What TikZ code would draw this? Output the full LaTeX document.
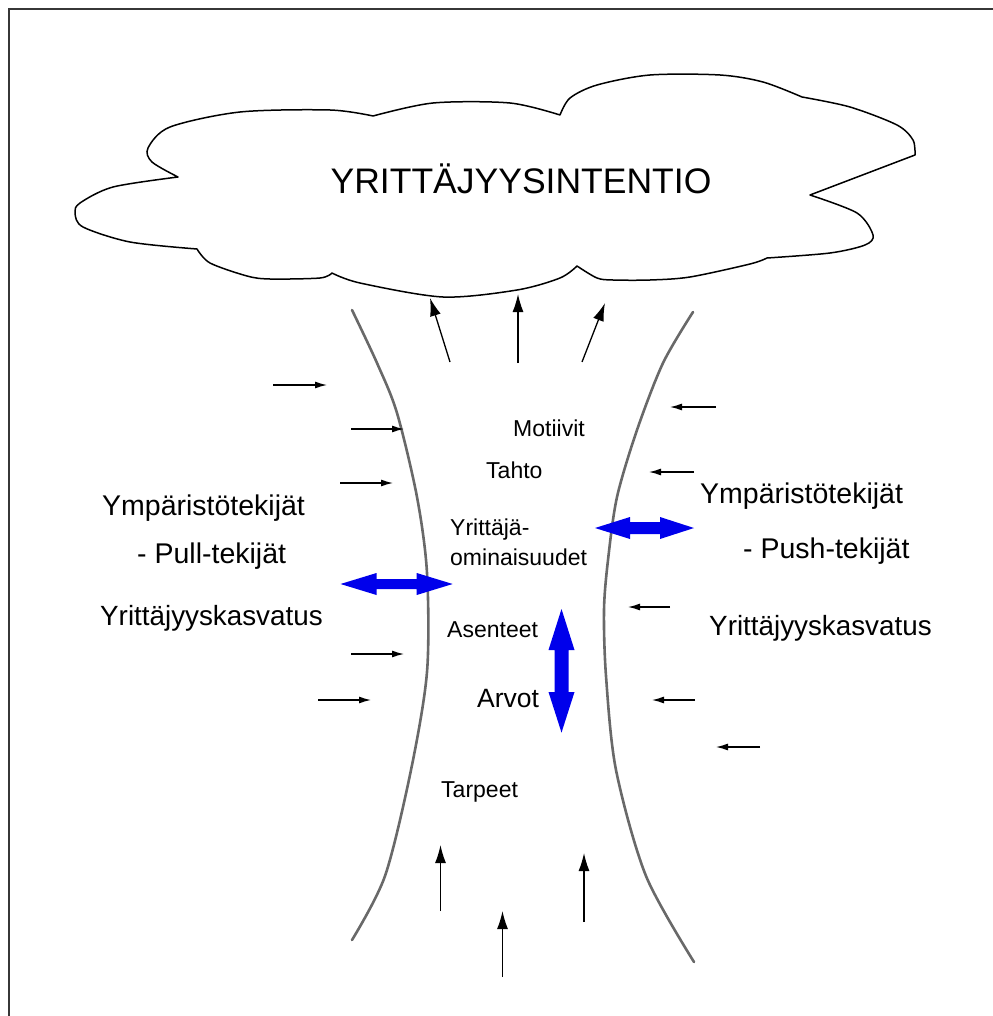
\documentclass[tikz,border=0pt]{standalone}
\usepackage{fontspec}
\setmainfont{Liberation Sans}
\usetikzlibrary{arrows.meta}
\definecolor{arrowblue}{RGB}{0,0,235}
\definecolor{funnelgray}{RGB}{105,105,105}
\definecolor{framegray}{RGB}{55,55,55}
\begin{document}
\begin{tikzpicture}[x=1pt,y=-1pt,
  lbl/.style={inner sep=0pt, anchor=base west, font=\fontsize{23}{27}\selectfont},
  side/.style={inner sep=0pt, anchor=base west, font=\fontsize{28.5}{34}\selectfont},
  thinarrow/.style={line width=1.3pt, -{Latex[length=12pt,width=7pt]}},
  uparrow/.style={line width=1.3pt, -{Latex[length=18pt,width=11pt]}},
  funnel/.style={line width=2.6pt, funnelgray, line cap=round},
  bluearrow/.style={fill=arrowblue, draw=none}]
\useasboundingbox (0,0) rectangle (992,1016);
% frame
\draw[line width=2pt, framegray] (8.5,1017) -- (8.5,9) -- (993,9);
% cloud
\draw[line width=1.5pt, line join=round]
  plot[smooth] coordinates {(178,177) (152,162) (148,148) (170,127) (240,112) (330,110) (373,116)}
  -- plot[smooth] coordinates {(373,116) (433,103) (510,103) (560,115)}
  -- plot[smooth] coordinates {(560,115) (570,98) (597,85) (650,75) (720,75) (763,82) (802,97)}
  -- plot[smooth] coordinates {(802,97) (850,107) (897,125) (913,140) (915,155)}
  -- (810,195)
  -- plot[smooth] coordinates {(810,195) (857,213) (873,235) (865,245) (830,253) (767,258)}
  -- plot[smooth] coordinates {(767,258) (750,264) (690,277) (650,280) (613,280) (597,278) (577,266)}
  -- plot[smooth] coordinates {(577,266) (560,278) (517,290) (443,297) (360,283) (332,273)}
  -- plot[smooth] coordinates {(332,273) (320,278) (270,279) (247,276) (210,263) (197,249)}
  -- plot[smooth] coordinates {(197,249) (130,242) (83,227) (75,213) (80,203) (113,187) (178,177)}
  -- cycle;
\node[font=\fontsize{35.5}{40}\selectfont, inner sep=0pt, anchor=base] (title) at (521,194) {YRITTÄJYYSINTENTIO};
% funnel sides
\draw[funnel] plot[smooth] coordinates {(352,310) (377,363) (397,413) (417,497) (427,573) (427,672) (411,770) (385,876) (352,940)};
\draw[funnel] plot[smooth] coordinates {(693,312) (663,363) (637,430) (617,497) (608,560) (604,610) (606,676) (616,770) (646,876) (694,962)};
% arrows to cloud
\draw[uparrow] (450,362) -- (430,298);
\draw[uparrow] (518,363) -- (518,294);
\draw[uparrow] (582,362) -- (605,303);
% left arrows
\draw[thinarrow] (273,385) -- (327,385);
\draw[thinarrow] (351,429) -- (404,429);
\draw[thinarrow] (340,483) -- (393,483);
\draw[thinarrow] (351,654) -- (404,654);
\draw[thinarrow] (318,700) -- (371,700);
% right arrows
\draw[thinarrow] (716,407) -- (670,407);
\draw[thinarrow] (694,472) -- (649,472);
\draw[thinarrow] (670,607) -- (628,607);
\draw[thinarrow] (695,700) -- (652,700);
\draw[thinarrow] (760,747) -- (716,747);
% bottom arrows
\draw[uparrow] (440.5,911) -- (440.5,845);
\draw[uparrow] (502.5,977) -- (502.5,911);
\draw[uparrow] (584,922) -- (584,853);
% blue double arrows
\fill[bluearrow] (340.5,584) -- (376.5,573) -- (376.5,579) -- (416.7,579) -- (416.7,573) -- (452.7,584)
  -- (416.7,595) -- (416.7,589) -- (376.5,589) -- (376.5,595) -- cycle;
\fill[bluearrow] (595,528) -- (630,517) -- (630,522) -- (660,522) -- (660,517) -- (694,528)
  -- (660,539) -- (660,534) -- (630,534) -- (630,539) -- cycle;
\fill[bluearrow] (561.5,609) -- (574.5,650) -- (568.5,650) -- (568.5,692) -- (574.5,692) -- (561.5,732.6)
  -- (548.5,692) -- (554.5,692) -- (554.5,650) -- (548.5,650) -- cycle;
% inner labels
\node[lbl] (motiivit) at (513,436) {Motiivit};
\node[lbl] (tahto) at (486,478) {Tahto};
\node[lbl] (yrittaja) at (450,535) {Yrittäjä-};
\node[lbl] (ominais) at (450,565) {ominaisuudet};
\node[lbl] (asenteet) at (447,637) {Asenteet};
\node[lbl, font=\fontsize{26.5}{30}\selectfont] (arvot) at (477,707) {Arvot};
\node[lbl] (tarpeet) at (441,797) {Tarpeet};
% side labels
\node[side] (ympL) at (102,515) {Ympäristötekijät};
\node[side] (pull) at (137,563) {- Pull-tekijät};
\node[side, font=\fontsize{27.8}{33}\selectfont] (kasvL) at (100,625) {Yrittäjyyskasvatus};
\node[side] (ympR) at (700,503) {Ympäristötekijät};
\node[side] (push) at (743,558) {- Push-tekijät};
\node[side, font=\fontsize{27.8}{33}\selectfont] (kasvR) at (709,635) {Yrittäjyyskasvatus};
\end{tikzpicture}
\end{document}
